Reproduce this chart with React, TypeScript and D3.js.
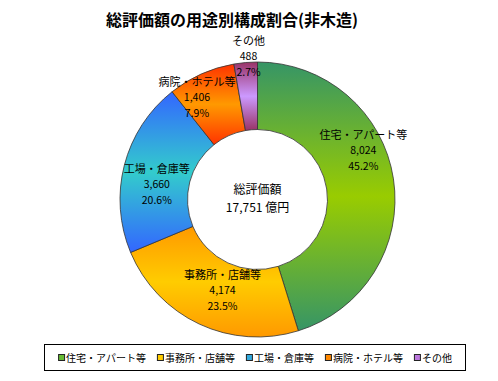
import React, { useEffect, useRef } from "react";
import * as d3 from "d3";

const categories = ["住宅・アパート等", "事務所・店舗等", "工場・倉庫等", "病院・ホテル等", "その他"];
const values = [8024, 4174, 3660, 1406, 488];
const percents = ["45.2%", "23.5%", "20.6%", "7.9%", "2.7%"];
const totalLabel = "17,751 億円";
const title = "総評価額の用途別構成割合(非木造)";

// styling (not data)
const darkColors = ["#369566", "#ff9900", "#3366ff", "#ff3300", "#993366"];
const lightColors = ["#99cc00", "#ffcc00", "#33cccc", "#ff9900", "#cc99ff"];
const legendColors = ["#66bb33", "#ffcc00", "#33aadd", "#ff8800", "#bb77dd"];
const labelNudge: [number, number][] = [[3, -34], [9, -4], [0, 10], [-18, -8], [0, -40]];

const W = 498, H = 381;
const CX = 257.5, CY = 199.5, R = 137.5, RI = 70;
const FONT = "'Noto Sans CJK JP', 'Noto Sans', sans-serif";

export default function App() {
  const ref = useRef<SVGSVGElement | null>(null);

  useEffect(() => {
    const svg = d3.select(ref.current);
    svg.selectAll("*").remove();

    const defs = svg.append("defs");
    darkColors.forEach((dc, i) => {
      const g = defs.append("linearGradient")
        .attr("id", "grad" + i)
        .attr("x1", 0).attr("y1", 0).attr("x2", 0).attr("y2", 1);
      g.append("stop").attr("offset", "0%").attr("stop-color", dc);
      g.append("stop").attr("offset", "50%").attr("stop-color", lightColors[i]);
      g.append("stop").attr("offset", "100%").attr("stop-color", dc);
    });

    svg.append("text")
      .attr("x", 232).attr("y", 26)
      .attr("text-anchor", "middle")
      .attr("font-family", FONT).attr("font-size", 16).attr("font-weight", "bold")
      .text(title);

    const pie = d3.pie<number>().sort(null).value((d) => d);
    const arcs = pie(values);
    const arc = d3.arc<d3.PieArcDatum<number>>().innerRadius(RI).outerRadius(R);
    const labelArc = d3.arc<d3.PieArcDatum<number>>().innerRadius(104).outerRadius(104);

    const g = svg.append("g").attr("transform", `translate(${CX},${CY})`);
    g.selectAll("path.slice")
      .data(arcs)
      .join("path")
      .attr("class", "slice")
      .attr("d", arc as any)
      .attr("fill", (_d, i) => `url(#grad${i})`)
      .attr("stroke", "#333")
      .attr("stroke-width", 0.8);

    arcs.forEach((a, i) => {
      const [x, y] = labelArc.centroid(a);
      const lx = x + labelNudge[i][0];
      const ly = y + labelNudge[i][1];
      const t = g.append("text")
        .attr("text-anchor", "middle")
        .attr("font-family", FONT)
        .attr("fill", "#000");
      t.append("tspan").attr("x", lx).attr("y", ly - 15 + 4).attr("font-size", 11).text(categories[i]);
      t.append("tspan").attr("x", lx).attr("y", ly + 4).attr("font-size", 10.5).text(d3.format(",")(values[i]));
      t.append("tspan").attr("x", lx).attr("y", ly + 16 + 4).attr("font-size", 10.5).text(percents[i]);
    });

    g.append("text").attr("x", 0).attr("y", -6)
      .attr("text-anchor", "middle").attr("font-family", FONT).attr("font-size", 12)
      .text("総評価額");
    g.append("text").attr("x", 0).attr("y", 12)
      .attr("text-anchor", "middle").attr("font-family", FONT).attr("font-size", 12)
      .text(totalLabel);

    // legend
    svg.append("rect")
      .attr("x", 44.5).attr("y", 344.5).attr("width", 421).attr("height", 26)
      .attr("fill", "#fff").attr("stroke", "#000").attr("stroke-width", 1);
    const lg = svg.append("g");
    const items = categories.map((c, i) => {
      const it = lg.append("g");
      it.append("rect").attr("x", 0.5).attr("y", -3.5).attr("width", 6).attr("height", 6)
        .attr("fill", legendColors[i]).attr("stroke", "#222").attr("stroke-width", 1);
      const tx = it.append("text").attr("x", 8).attr("y", 4)
        .attr("font-family", FONT).attr("font-size", 10).text(c);
      const w = 8 + (tx.node() as SVGTextElement).getComputedTextLength();
      return { it, w };
    });
    const gap = 11;
    const total = d3.sum(items, (d) => d.w) + gap * (items.length - 1);
    let x = 255 - total / 2;
    items.forEach(({ it, w }) => {
      it.attr("transform", `translate(${x},358)`);
      x += w + gap;
    });
  }, []);

  return (
    <svg
      ref={ref}
      width={W}
      height={H}
      style={{ position: "absolute", left: 0, top: 0, background: "#fff" }}
    />
  );
}
